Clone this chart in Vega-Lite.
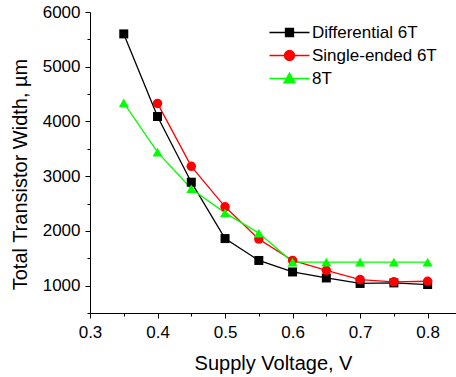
{
  "$schema": "https://vega.github.io/schema/vega-lite/v6.json",
  "autosize": "none",
  "padding": {"left": 90, "top": 12, "right": 0, "bottom": 64},
  "width": 366,
  "height": 301,
  "config": {"view": {"stroke": null}, "font": "Liberation Sans"},
  "data": {"values": [
    {"series": "Differential 6T", "v": 0.35, "w": 5600},
    {"series": "Differential 6T", "v": 0.40, "w": 4090},
    {"series": "Differential 6T", "v": 0.45, "w": 2890},
    {"series": "Differential 6T", "v": 0.50, "w": 1860},
    {"series": "Differential 6T", "v": 0.55, "w": 1460},
    {"series": "Differential 6T", "v": 0.60, "w": 1250},
    {"series": "Differential 6T", "v": 0.65, "w": 1140},
    {"series": "Differential 6T", "v": 0.70, "w": 1040},
    {"series": "Differential 6T", "v": 0.75, "w": 1050},
    {"series": "Differential 6T", "v": 0.80, "w": 1020},
    {"series": "Single-ended 6T", "v": 0.40, "w": 4330},
    {"series": "Single-ended 6T", "v": 0.45, "w": 3180},
    {"series": "Single-ended 6T", "v": 0.50, "w": 2440},
    {"series": "Single-ended 6T", "v": 0.55, "w": 1850},
    {"series": "Single-ended 6T", "v": 0.60, "w": 1460},
    {"series": "Single-ended 6T", "v": 0.65, "w": 1280},
    {"series": "Single-ended 6T", "v": 0.70, "w": 1110},
    {"series": "Single-ended 6T", "v": 0.75, "w": 1070},
    {"series": "Single-ended 6T", "v": 0.80, "w": 1080},
    {"series": "8T", "v": 0.35, "w": 4340},
    {"series": "8T", "v": 0.40, "w": 3440},
    {"series": "8T", "v": 0.45, "w": 2770},
    {"series": "8T", "v": 0.50, "w": 2330},
    {"series": "8T", "v": 0.55, "w": 1960},
    {"series": "8T", "v": 0.60, "w": 1430},
    {"series": "8T", "v": 0.65, "w": 1430},
    {"series": "8T", "v": 0.70, "w": 1430},
    {"series": "8T", "v": 0.75, "w": 1430},
    {"series": "8T", "v": 0.80, "w": 1430}
  ]},
  "encoding": {
    "x": {
      "field": "v", "type": "quantitative",
      "scale": {"domain": [0.3, 0.842], "nice": false, "zero": false},
      "axis": {
        "title": "Supply Voltage, V",
        "values": [0.3, 0.35, 0.4, 0.45, 0.5, 0.55, 0.6, 0.65, 0.7, 0.75, 0.8],
        "labelExpr": "round(datum.value*20)%2==0 ? format(datum.value,'.1f') : ''",
        "tickSize": {"condition": {"test": "round(datum.value*20)%2==0", "value": 5}, "value": 3},
        "labelFlush": false, "labelOverlap": false,
        "grid": false, "domainColor": "#000", "tickColor": "#000",
        "labelColor": "#000", "labelFontSize": 17, "labelPadding": 6,
        "titleFontSize": 20, "titleFontWeight": "normal", "titleColor": "#000", "titlePadding": 13
      }
    },
    "y": {
      "field": "w", "type": "quantitative",
      "scale": {"domain": [500, 6000], "nice": false, "zero": false},
      "axis": {
        "title": "Total Transistor Width, µm",
        "values": [500, 1000, 1500, 2000, 2500, 3000, 3500, 4000, 4500, 5000, 5500, 6000],
        "labelExpr": "datum.value%1000==0 ? format(datum.value,'d') : ''",
        "tickSize": {"condition": {"test": "datum.value%1000==0", "value": 5}, "value": 3},
        "labelOverlap": false, "labelFlush": false,
        "grid": false, "domainColor": "#000", "tickColor": "#000",
        "labelColor": "#000", "labelFontSize": 17, "labelPadding": 5,
        "titleFontSize": 20, "titleFontWeight": "normal", "titleColor": "#000", "titlePadding": 12,
        "titleY": 162
      }
    },
    "color": {"field": "series", "type": "nominal",
      "scale": {"domain": ["Differential 6T", "Single-ended 6T", "8T"], "range": ["#000000", "#ff0000", "#00ff00"]},
      "legend": {
        "orient": "none", "legendX": 191, "legendY": 12, "title": null,
        "labelFontSize": 17, "labelColor": "#000", "labelFont": "Liberation Sans",
        "symbolSize": 64, "labelOffset": 14, "rowPadding": 5, "padding": 0,
        "encode": {"symbols": {"update": {
          "shape": {"signal": "datum.value == 'Differential 6T' ? 'M-5,0H5M-1,-1H1V1H-1Z' : datum.value == 'Single-ended 6T' ? 'M-5,0H5M-1.25,0A1.25,1.25,0,1,1,1.25,0A1.25,1.25,0,1,1,-1.25,0Z' : 'M-5,0H5M0,-1.35L1.4,1.1L-1.4,1.1Z'"},
          "size": {"value": 64},
          "fill": {"signal": "scale('color', datum.value)"},
          "stroke": {"signal": "scale('color', datum.value)"},
          "strokeWidth": {"value": 1.3},
          "opacity": {"value": 1}
        }}}
      }}
  },
  "layer": [
    {"mark": {"type": "line", "strokeWidth": 1.3}},
    {
      "transform": [{"filter": "datum.series == 'Differential 6T'"}],
      "mark": {"type": "point", "filled": true, "opacity": 1, "shape": "square", "size": 81, "strokeWidth": 0}
    },
    {
      "transform": [{"filter": "datum.series == 'Single-ended 6T'"}],
      "mark": {"type": "point", "filled": true, "opacity": 1, "shape": "circle", "size": 90, "strokeWidth": 0}
    },
    {
      "transform": [{"filter": "datum.series == '8T'"}],
      "mark": {"type": "point", "filled": true, "opacity": 1, "shape": "triangle-up", "size": 100, "strokeWidth": 0}
    }
  ]
}
